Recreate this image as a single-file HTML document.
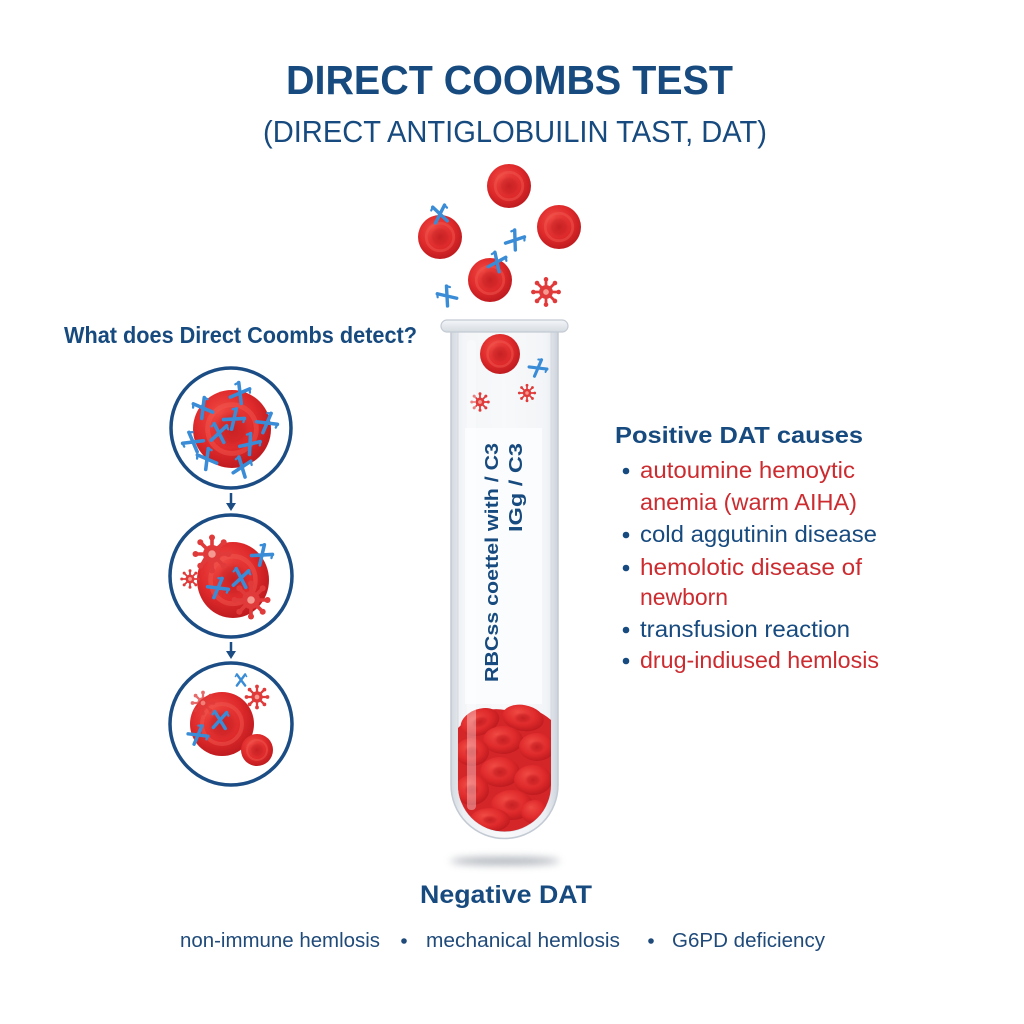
<!DOCTYPE html>
<html><head><meta charset="utf-8"><style>
html,body{margin:0;padding:0;background:#fff;}
svg{display:block;}
</style></head><body>
<svg width="1024" height="1024" viewBox="0 0 1024 1024" xmlns="http://www.w3.org/2000/svg" font-family="'Liberation Sans', Arial, sans-serif">
<defs>
  <radialGradient id="rg" cx="0.45" cy="0.42" r="0.6" fx="0.35" fy="0.3">
    <stop offset="0" stop-color="#f04a44"/>
    <stop offset="0.65" stop-color="#df2a2b"/>
    <stop offset="1" stop-color="#bd1a1f"/>
  </radialGradient>
  <radialGradient id="rd" cx="0.5" cy="0.5" r="0.5">
    <stop offset="0" stop-color="#c01c20" stop-opacity="0.85"/>
    <stop offset="0.6" stop-color="#c81f23" stop-opacity="0.55"/>
    <stop offset="1" stop-color="#e23030" stop-opacity="0"/>
  </radialGradient>
  <linearGradient id="glass" x1="0" x2="1" y1="0" y2="0">
    <stop offset="0" stop-color="#d3d9e0"/>
    <stop offset="0.12" stop-color="#eef1f4"/>
    <stop offset="0.5" stop-color="#f8f9fb"/>
    <stop offset="0.88" stop-color="#eceff3"/>
    <stop offset="1" stop-color="#cdd4dc"/>
  </linearGradient>
  <linearGradient id="rim" x1="0" x2="0" y1="0" y2="1">
    <stop offset="0" stop-color="#f4f6f8"/>
    <stop offset="1" stop-color="#d5dbe2"/>
  </linearGradient>
  <filter id="blur" x="-50%" y="-200%" width="200%" height="500%"><feGaussianBlur stdDeviation="4"/></filter>
  <clipPath id="tubeIn"><path d="M458,332 L458,785 A46.5,46.5 0 0 0 551,785 L551,332 Z"/></clipPath>

  <g id="rbc">
    <circle r="20" fill="url(#rg)"/>
    <circle r="12.5" fill="none" stroke="#f25a52" stroke-opacity="0.45" stroke-width="2.5"/>
    <circle r="11" fill="url(#rd)"/>
  </g>
  <g id="ab" stroke="#3a8cd6" stroke-width="3.4" stroke-linecap="round" fill="none">
    <path d="M-6,-8 L6,8 M6,-8 L-6,8"/>
    <path d="M-6,-8 L-8,-5 M6,-8 L8,-5" stroke-width="2.2"/>
  </g>
  <g id="cp" fill="#e03a3a" stroke="#e03a3a">
    <circle r="6" stroke="none"/>
    <g stroke-width="2.4" stroke-linecap="round">
      <path d="M0,0 L0,-11 M0,0 L0,11 M0,0 L-11,0 M0,0 L11,0 M0,0 L7.8,7.8 M0,0 L-7.8,-7.8 M0,0 L7.8,-7.8 M0,0 L-7.8,7.8"/>
    </g>
    <g stroke="none">
      <circle cx="0" cy="-11" r="2"/><circle cx="0" cy="11" r="2"/><circle cx="-11" cy="0" r="2"/><circle cx="11" cy="0" r="2"/>
      <circle cx="7.8" cy="7.8" r="2"/><circle cx="-7.8" cy="-7.8" r="2"/><circle cx="7.8" cy="-7.8" r="2"/><circle cx="-7.8" cy="7.8" r="2"/>
    </g>
    <circle r="2.5" fill="#f59a90" stroke="none"/>
  </g>
</defs>

<rect width="1024" height="1024" fill="#ffffff"/>

<!-- Titles -->
<text x="509.5" y="94" text-anchor="middle" font-size="41" font-weight="bold" fill="#174a7e" textLength="447" lengthAdjust="spacingAndGlyphs">DIRECT COOMBS TEST</text>
<text x="515" y="142" text-anchor="middle" font-size="31" fill="#174a7e" textLength="504" lengthAdjust="spacingAndGlyphs">(DIRECT ANTIGLOBUILIN TAST, DAT)</text>

<!-- Falling cells -->
<use href="#rbc" transform="translate(509,186) scale(1.1)"/>
<use href="#rbc" transform="translate(559,227) scale(1.1)"/>
<use href="#rbc" transform="translate(440,237) scale(1.1)"/>
<use href="#rbc" transform="translate(490,280) scale(1.1)"/>
<use href="#ab" transform="translate(440,214) rotate(-10)"/>
<use href="#ab" transform="translate(497,262) rotate(25)"/>
<use href="#ab" transform="translate(515,240) rotate(35)"/>
<use href="#ab" transform="translate(447,296) rotate(-40)"/>
<use href="#cp" transform="translate(546,292) scale(1.15)"/>

<!-- Left heading -->
<text x="64" y="343" font-size="23" font-weight="bold" fill="#174a7e" textLength="353" lengthAdjust="spacingAndGlyphs">What does Direct Coombs detect?</text>

<!-- Circle 1 -->
<circle cx="231" cy="428" r="60" fill="#fff" stroke="#1b4c84" stroke-width="3.5"/>
<use href="#rbc" transform="translate(232,429) scale(1.95)"/>
<use href="#ab" transform="translate(240,393) rotate(30) scale(1.05)"/>
<use href="#ab" transform="translate(203,408) rotate(-30) scale(1.05)"/>
<use href="#ab" transform="translate(234,419) rotate(50) scale(1.05)"/>
<use href="#ab" transform="translate(267,423) rotate(60) scale(1.05)"/>
<use href="#ab" transform="translate(219,433) rotate(10) scale(1.05)"/>
<use href="#ab" transform="translate(193,442) rotate(-60) scale(1.05)"/>
<use href="#ab" transform="translate(250,444) rotate(40) scale(1.05)"/>
<use href="#ab" transform="translate(207,459) rotate(-30) scale(1.05)"/>
<use href="#ab" transform="translate(242,467) rotate(20) scale(1.05)"/>

<!-- Arrow 1 -->
<line x1="231" y1="493" x2="231" y2="505" stroke="#1b4c84" stroke-width="2.5"/>
<path d="M226,503 L236,503 L231,511 Z" fill="#1b4c84"/>

<!-- Circle 2 -->
<circle cx="231" cy="576" r="61" fill="#fff" stroke="#1b4c84" stroke-width="3.5"/>
<use href="#rbc" transform="translate(233,580) scale(1.8,1.9)"/>
<use href="#cp" transform="translate(212,554) scale(1.5)"/>
<use href="#cp" transform="translate(251,600) scale(1.5)"/>
<use href="#cp" transform="translate(190,579) scale(0.75)"/>
<use href="#ab" transform="translate(262,555) rotate(50) scale(1.05)"/>
<use href="#ab" transform="translate(241,578) rotate(10) scale(1.05)"/>
<use href="#ab" transform="translate(218,588) rotate(60) scale(1.05)"/>

<!-- Arrow 2 -->
<line x1="231" y1="642" x2="231" y2="653" stroke="#1b4c84" stroke-width="2.5"/>
<path d="M226,651 L236,651 L231,659 Z" fill="#1b4c84"/>

<!-- Circle 3 -->
<circle cx="231" cy="724" r="61" fill="#fff" stroke="#1b4c84" stroke-width="3.5"/>
<use href="#rbc" transform="translate(222,724) scale(1.6)"/>
<use href="#rbc" transform="translate(257,750) scale(0.8)"/>
<use href="#cp" transform="translate(203,703) scale(0.95)" opacity="0.75"/>
<use href="#cp" transform="translate(257,697) scale(0.95)"/>
<use href="#ab" transform="translate(241,680) scale(0.7)"/>
<use href="#ab" transform="translate(220,720) rotate(5)"/>
<use href="#ab" transform="translate(198,735) rotate(60)"/>

<!-- Tube -->
<ellipse cx="505" cy="861" rx="55" ry="4" fill="#9aa0a8" filter="url(#blur)" opacity="0.8"/>
<path d="M451,330 L451,785 A53.5,53.5 0 0 0 558,785 L558,330 Z" fill="url(#glass)" stroke="#c3cad3" stroke-width="1.5"/>
<path d="M458,332 L458,785 A46.5,46.5 0 0 0 551,785 L551,332" fill="#f6f8fa" fill-opacity="0.6" stroke="#d4dae1" stroke-width="1"/>

<g clip-path="url(#tubeIn)">
  <path d="M458,728 Q480,705 505,710 Q530,702 551,720 L551,840 L458,840 Z" fill="#d42629"/>
  <g>
    <ellipse cx="480" cy="722" rx="20" ry="13" fill="url(#rg)" transform="rotate(-20 480 722)"/>
    <ellipse cx="480" cy="722" rx="10" ry="6" fill="url(#rd)" transform="rotate(-20 480 722)"/>
    <ellipse cx="523" cy="718" rx="21" ry="13" fill="url(#rg)" transform="rotate(10 523 718)"/>
    <ellipse cx="523" cy="718" rx="10" ry="6" fill="url(#rd)"/>
    <ellipse cx="503" cy="740" rx="20" ry="14" fill="url(#rg)"/>
    <ellipse cx="503" cy="740" rx="10" ry="7" fill="url(#rd)"/>
    <ellipse cx="537" cy="747" rx="18" ry="14" fill="url(#rg)"/>
    <ellipse cx="537" cy="747" rx="9" ry="7" fill="url(#rd)"/>
    <ellipse cx="472" cy="752" rx="17" ry="14" fill="url(#rg)"/>
    <ellipse cx="472" cy="752" rx="8" ry="7" fill="url(#rd)"/>
    <ellipse cx="500" cy="772" rx="20" ry="15" fill="url(#rg)"/>
    <ellipse cx="500" cy="772" rx="10" ry="7" fill="url(#rd)"/>
    <ellipse cx="533" cy="780" rx="19" ry="15" fill="url(#rg)"/>
    <ellipse cx="533" cy="780" rx="9" ry="7" fill="url(#rd)"/>
    <ellipse cx="472" cy="790" rx="17" ry="15" fill="url(#rg)"/>
    <ellipse cx="472" cy="790" rx="8" ry="7" fill="url(#rd)"/>
    <ellipse cx="512" cy="805" rx="21" ry="15" fill="url(#rg)"/>
    <ellipse cx="512" cy="805" rx="10" ry="7" fill="url(#rd)"/>
    <ellipse cx="490" cy="820" rx="20" ry="12" fill="url(#rg)"/>
    <ellipse cx="490" cy="820" rx="9" ry="5" fill="url(#rd)"/>
    <ellipse cx="535" cy="812" rx="14" ry="12" fill="url(#rg)"/>
  </g>
</g>

<!-- Objects in tube top -->
<use href="#rbc" transform="translate(500,354) scale(1.0)"/>
<use href="#ab" transform="translate(538,368) rotate(60) scale(0.9)"/>
<use href="#cp" transform="translate(480,402) scale(0.75)"/>
<use href="#cp" transform="translate(527,393) scale(0.7)"/>

<!-- Label -->
<rect x="465" y="428" width="77" height="276" fill="#fbfcfd" fill-opacity="0.95"/>
<text transform="translate(498,682) rotate(-90)" font-size="18" font-weight="bold" fill="#174a7e" textLength="239" lengthAdjust="spacingAndGlyphs">RBCss coettel with / C3</text>
<text transform="translate(522,443) rotate(-90)" text-anchor="end" font-size="18" font-weight="bold" fill="#174a7e" textLength="89" lengthAdjust="spacingAndGlyphs">IGg / C3</text>

<!-- glass highlight -->
<rect x="467" y="340" width="9" height="470" rx="4" fill="#ffffff" opacity="0.35"/>

<!-- Rim -->
<rect x="441" y="320" width="127" height="12" rx="6" fill="url(#rim)" stroke="#c3cad3" stroke-width="1.2"/>

<!-- Right list -->
<text x="615" y="443" font-size="23.5" font-weight="bold" fill="#174a7e" textLength="248" lengthAdjust="spacingAndGlyphs">Positive DAT causes</text>
<g fill="#174a7e">
  <circle cx="626" cy="471" r="3.3"/>
  <circle cx="626" cy="535" r="3.3"/>
  <circle cx="626" cy="568" r="3.3"/>
  <circle cx="626" cy="630" r="3.3"/>
  <circle cx="626" cy="661" r="3.3"/>
</g>
<g font-size="23">
  <text x="640" y="478" fill="#cc2b2f" textLength="215" lengthAdjust="spacingAndGlyphs">autoumine hemoytic</text>
  <text x="640" y="510" fill="#cc2b2f" textLength="217" lengthAdjust="spacingAndGlyphs">anemia (warm AIHA)</text>
  <text x="640" y="542" fill="#174a7e" textLength="237" lengthAdjust="spacingAndGlyphs">cold aggutinin disease</text>
  <text x="640" y="575" fill="#cc2b2f" textLength="222" lengthAdjust="spacingAndGlyphs">hemolotic disease of</text>
  <text x="640" y="605" fill="#cc2b2f" textLength="88" lengthAdjust="spacingAndGlyphs">newborn</text>
  <text x="640" y="637" fill="#174a7e" textLength="210" lengthAdjust="spacingAndGlyphs">transfusion reaction</text>
  <text x="640" y="668" fill="#cc2b2f" textLength="239" lengthAdjust="spacingAndGlyphs">drug-indiused hemlosis</text>
</g>

<!-- Negative DAT -->
<text x="506" y="903" text-anchor="middle" font-size="25" font-weight="bold" fill="#174a7e" textLength="172" lengthAdjust="spacingAndGlyphs">Negative DAT</text>
<g font-size="20" fill="#1f4a7a">
  <text x="180" y="947" textLength="200" lengthAdjust="spacingAndGlyphs">non-immune hemlosis</text>
  <circle cx="404" cy="941" r="2.8"/>
  <text x="426" y="947" textLength="194" lengthAdjust="spacingAndGlyphs">mechanical hemlosis</text>
  <circle cx="651" cy="941" r="2.8"/>
  <text x="672" y="947" textLength="153" lengthAdjust="spacingAndGlyphs">G6PD deficiency</text>
</g>
</svg>
</body></html>
